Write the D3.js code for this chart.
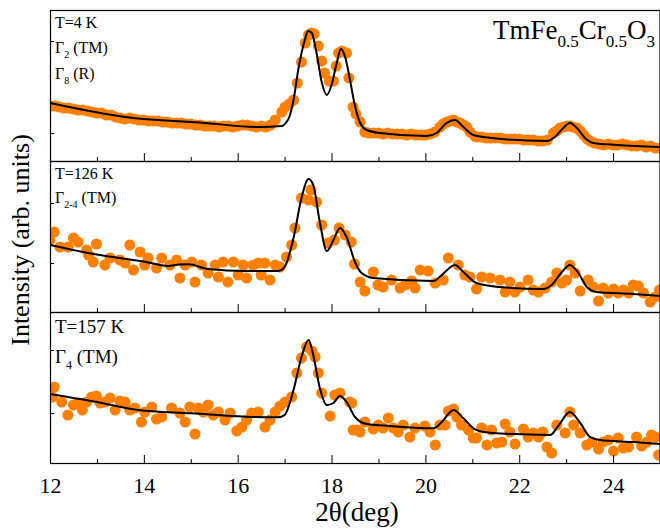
<!DOCTYPE html>
<html>
<head>
<meta charset="utf-8">
<script src="https://cdn.jsdelivr.net/npm/d3@7"></script>
<style>
    body { margin: 0; background: #fff; }
    svg { display: block; }
    text { font-family: "Liberation Serif", "Times New Roman", serif; fill: #000; }
</style>
</head>
<body>
<svg id="chart" width="660" height="531"></svg>
<script>
// x axis (2theta, deg)
const xMajorTicks = [12, 14, 16, 18, 20, 22, 24];
const xMinorTicks = [13, 15, 17, 19, 21, 23, 25];

// measured points, T = 4 K  [2theta, intensity (arb.)]
const dots4K = [[12.0,55],[12.1,55],[12.2,54],[12.3,53],[12.4,53],[12.5,52],[12.6,51],[12.7,51],[12.8,50],[12.9,49],
    [13.0,48],[13.1,48],[13.2,46],[13.3,46],[13.4,44],[13.5,43],[13.6,42],[13.7,43],[13.8,42],[13.9,41],
    [14.0,41],[14.1,40],[14.2,40],[14.3,40],[14.4,39],[14.5,39],[14.6,38],[14.7,38],[14.8,38],[14.9,37],
    [15.0,37],[15.1,36],[15.2,36],[15.3,35],[15.4,35],[15.5,35],[15.6,34],[15.7,35],[15.8,35],[15.9,34],
    [16.0,35],[16.1,36],[16.2,36],[16.3,35],[16.4,34],[16.5,35],[16.6,34],[16.7,36],[16.8,41],[16.94,49],
    [17.01,54],[17.1,57],[17.19,61],[17.27,78],[17.36,99],[17.44,118],[17.51,126],[17.57,128],[17.63,127],[17.72,115],
    [17.79,100],[17.85,88],[17.95,80],[18.04,80],[18.1,95],[18.15,108],[18.22,110],[18.32,108],[18.37,83],[18.46,54],
    [18.52,47],[18.61,39],[18.71,29],[18.8,28],[18.9,28],[19.0,28],[19.1,27],[19.2,28],[19.3,27],[19.4,27],
    [19.5,27],[19.6,26],[19.7,27],[19.8,26],[19.9,26],[20.0,26],[20.1,27],[20.2,29],[20.31,34],[20.38,37],
    [20.46,39],[20.53,40],[20.6,41],[20.67,39],[20.74,38],[20.81,36],[20.88,34],[20.95,29],[21.05,25],[21.1,24],
    [21.2,24],[21.3,23],[21.4,23],[21.5,23],[21.6,23],[21.7,22],[21.8,22],[21.9,22],[22.0,22],[22.1,21],
    [22.2,21],[22.3,21],[22.4,20],[22.5,20],[22.6,21],[22.73,28],[22.8,30],[22.87,33],[22.95,34],[23.02,35],
    [23.08,35],[23.15,34],[23.23,33],[23.3,30],[23.37,26],[23.45,22],[23.51,20],[23.6,18],[23.7,17],[23.8,16],
    [23.9,17],[24.0,16],[24.1,16],[24.2,17],[24.3,16],[24.4,15],[24.5,15],[24.6,16],[24.7,14],[24.8,15],
    [24.9,13],[25.0,13]];

// refinement, T = 4 K
const fit4K = [[12.0,58],[13.6,44],[15.3,38],[16.44,34],[16.94,35],[17.04,39],[17.1,44],[17.19,61],[17.29,91],[17.43,121],
    [17.5,130],[17.58,128],[17.68,108],[17.79,79],[17.9,66],[18.0,76],[18.11,98],[18.2,112],[18.29,104],[18.39,82],
    [18.5,55],[18.61,38],[18.75,31],[19.03,28],[20.03,25],[20.24,28],[20.45,38],[20.63,41],[20.81,34],[21.02,26],
    [21.23,24],[22.59,20],[22.76,24],[22.94,33],[23.08,38],[23.23,33],[23.4,23],[23.58,18],[24.08,16],[25.0,14]];

// measured points, T = 126 K
const dots126K = [[12.0,72],[12.09,80],[12.21,65],[12.39,65],[12.5,74],[12.6,70],[12.78,62],[12.82,57],[12.92,50],[12.99,68],
    [13.17,47],[13.28,54],[13.49,52],[13.6,49],[13.7,67],[13.78,42],[13.92,60],[14.02,47],[14.09,54],[14.27,44],
    [14.38,54],[14.56,47],[14.7,52],[14.77,34],[14.88,47],[15.02,50],[15.09,30],[15.23,47],[15.37,39],[15.52,47],
    [15.59,35],[15.69,50],[15.79,30],[15.91,50],[16.01,37],[16.12,47],[16.19,34],[16.33,47],[16.44,49],[16.5,37],
    [16.58,49],[16.69,32],[16.8,47],[16.9,45],[17.04,55],[17.15,67],[17.22,84],[17.36,114],[17.51,112],[17.56,122],
    [17.68,110],[17.79,87],[17.93,69],[18.06,72],[18.16,84],[18.29,77],[18.42,70],[18.49,48],[18.61,30],[18.71,21],
    [18.89,40],[18.99,27],[19.1,25],[19.28,32],[19.46,24],[19.57,27],[19.71,31],[19.78,24],[19.89,42],[20.06,41],
    [20.21,29],[20.38,32],[20.49,54],[20.7,47],[20.84,37],[20.95,35],[21.09,23],[21.2,35],[21.38,34],[21.59,32],
    [21.7,20],[21.8,30],[21.91,20],[22.02,25],[22.19,32],[22.3,22],[22.41,20],[22.55,24],[22.69,30],[22.8,39],
    [22.91,29],[23.01,32],[23.08,47],[23.19,39],[23.3,21],[23.47,32],[23.58,25],[23.69,11],[23.79,24],[23.9,19],
    [24.01,23],[24.11,19],[24.22,22],[24.33,19],[24.43,27],[24.54,26],[24.65,19],[24.79,10],[24.9,15],[24.99,22]];

const fit126K = [[12.0,67],[12.96,57.7],[14.02,50.3],[14.52,46],[14.75,47.5],[14.95,47.7],[15.37,43],[16.16,41],[16.87,41],[17.0,45],
    [17.19,74],[17.36,114],[17.51,133],[17.61,127],[17.75,90],[17.9,61],[18.04,72],[18.18,84],[18.32,75],[18.5,50],
    [18.64,39],[18.89,34],[20.17,31],[20.35,37],[20.63,47],[20.81,40],[21.09,29],[21.59,25],[22.51,23],[22.69,27],
    [22.91,40],[23.08,47],[23.26,39],[23.44,25],[23.65,20],[24.43,18],[25.0,16]];

// measured points, T = 157 K
const dots157K = [[12.05,66],[12.09,76],[12.25,61],[12.38,48],[12.5,58],[12.6,60],[12.69,53],[12.78,61],[12.89,66],[12.99,67],
    [13.07,60],[13.17,61],[13.28,65],[13.39,53],[13.49,62],[13.6,61],[13.7,53],[13.81,55],[13.95,41],[14.02,51],
    [14.17,56],[14.27,44],[14.38,46],[14.59,55],[14.77,50],[14.88,41],[14.98,56],[15.09,29],[15.16,55],[15.27,51],
    [15.37,58],[15.48,48],[15.59,51],[15.73,43],[15.84,50],[15.98,32],[16.09,36],[16.19,43],[16.3,50],[16.44,51],
    [16.58,36],[16.69,43],[16.8,51],[16.9,57],[17.01,61],[17.15,66],[17.26,90],[17.36,105],[17.47,116],[17.58,112],
    [17.65,106],[17.72,90],[17.79,70],[17.97,47],[18.07,68],[18.18,70],[18.39,61],[18.43,60],[18.46,33],[18.54,33],
    [18.61,31],[18.71,41],[18.89,34],[19.0,38],[19.1,35],[19.21,45],[19.32,35],[19.42,31],[19.53,38],[19.67,26],
    [19.78,35],[19.99,37],[20.1,31],[20.21,18],[20.31,38],[20.42,38],[20.49,52],[20.6,54],[20.67,46],[20.77,38],
    [20.92,33],[21.02,25],[21.09,25],[21.2,35],[21.31,18],[21.41,33],[21.52,20],[21.63,21],[21.7,39],[21.8,31],
    [21.91,19],[22.09,34],[22.19,26],[22.3,30],[22.41,26],[22.5,31],[22.59,16],[22.69,10],[22.8,38],[22.98,30],
    [23.08,51],[23.16,38],[23.3,30],[23.44,18],[23.55,21],[23.69,14],[23.79,21],[23.9,23],[24.01,12],[24.11,25],
    [24.22,15],[24.33,16],[24.5,26],[24.61,17],[24.72,21],[24.82,28],[24.91,26],[24.97,8]];

const fit157K = [[12.0,69],[12.96,61.3],[13.88,53],[15.02,49.7],[16.16,46.3],[16.87,45.7],[17.0,48],[17.19,73],[17.36,106],[17.51,123],
    [17.61,108],[17.75,75],[17.9,58],[18.04,60],[18.18,67],[18.32,61],[18.5,46],[18.75,39],[19.25,37],[20.17,34.7],
    [20.35,41],[20.6,53],[20.81,44.7],[21.06,33.7],[21.38,30.3],[22.66,28],[22.83,37],[23.08,51],[23.3,40],[23.51,26],
    [23.72,23],[24.43,21],[25.0,19]];

// unlabeled y ticks of each panel
const yTicks4K = [28, 120];
const yTicks126K = [49, 109];
const yTicks157K = [50, 113];

const panels = [
    { dots: dots4K, fit: fit4K, yTicks: yTicks4K, fontSize: 16,
      labels: [[{t: 'T=4 K'}], [{t: 'Γ'}, {t: '2', sub: true}, {t: ' (TM)'}], [{t: 'Γ'}, {t: '8', sub: true}, {t: ' (R)'}]],
      labelY: [18, 43, 69] },
    { dots: dots126K, fit: fit126K, yTicks: yTicks126K, fontSize: 16,
      labels: [[{t: 'T=126 K'}], [{t: 'Γ'}, {t: '2-4', sub: true}, {t: ' (TM)'}]],
      labelY: [18, 42] },
    { dots: dots157K, fit: fit157K, yTicks: yTicks157K, fontSize: 19,
      labels: [[{t: 'T=157 K'}], [{t: 'Γ'}, {t: '4', sub: true}, {t: ' (TM)'}]],
      labelY: [21, 51] }
];

const svg = d3.select('#chart');
const plotLeft = 50, plotRight = 660, plotTop = 10, panelH = 151;

const x = d3.scaleLinear().domain([12, 25]).range([plotLeft, plotRight]);

/**
 * writes a text with subscript parts as tspans
 */
function richText(g, px, py, parts, size, anchor) {
    const t = g.append('text')
        .attr('x', px)
        .attr('y', py)
        .attr('text-anchor', anchor || 'start')
        .style('font-size', size + 'px');
    let shifted = false;
    parts.forEach(p => {
        const s = t.append('tspan').text(p.t);
        if (p.sub) {
            s.style('font-size', Math.round(size * 0.62) + 'px').attr('dy', shifted ? 0 : size * 0.3);
            shifted = true;
        } else {
            s.attr('dy', shifted ? -size * 0.3 : 0);
            shifted = false;
        }
    });
    return t;
}

panels.forEach((p, i) => {
    const y0 = plotTop + i * panelH;
    const y1 = y0 + panelH;
    const y = d3.scaleLinear().domain([0, panelH]).range([y1, y0]);

    const g = svg.append('g');

    svg.append('clipPath').attr('id', 'clip' + i)
        .append('rect')
        .attr('x', plotLeft).attr('y', y0)
        .attr('width', plotRight - plotLeft).attr('height', panelH);

    const plot = g.append('g').attr('clip-path', 'url(#clip' + i + ')');

    plot.selectAll('circle')
        .data(p.dots)
        .enter().append('circle')
        .attr('cx', d => x(d[0]))
        .attr('cy', d => y(d[1]))
        .attr('r', 5.5)
        .style('fill', '#ff8000');

    plot.append('path')
        .attr('d', d3.line().x(d => x(d[0])).y(d => y(d[1])).curve(d3.curveMonotoneX)(p.fit))
        .style('fill', 'none')
        .style('stroke', '#000')
        .style('stroke-width', 2);

    // bottom axis, ticks pointing inward
    const isLast = i === panels.length - 1;
    g.append('g')
        .attr('transform', `translate(0,${y1})`)
        .call(d3.axisBottom(x).tickValues(xMajorTicks).tickSize(-8).tickSizeOuter(0)
            .tickFormat(isLast ? d3.format('d') : ''))
        .call(a => a.select('.domain').remove())
        .call(a => a.selectAll('text')
            .attr('y', 14)
            .style('font-family', '"Liberation Serif", serif')
            .style('font-size', '22px')
            .attr('dy', '0.71em'));

    g.append('g')
        .attr('transform', `translate(0,${y1})`)
        .call(d3.axisBottom(x).tickValues(xMinorTicks).tickSize(-4).tickFormat(''))
        .call(a => a.select('.domain').remove());

    g.append('g')
        .attr('transform', `translate(${plotLeft},0)`)
        .call(d3.axisLeft(y).tickValues(p.yTicks).tickSize(-4).tickFormat(''))
        .call(a => a.select('.domain').remove());

    // frame
    g.append('rect')
        .attr('x', plotLeft + 0.5).attr('y', y0 + 0.5)
        .attr('width', plotRight - plotLeft - 0.5).attr('height', panelH)
        .style('fill', 'none')
        .style('stroke', '#000')
        .style('stroke-width', 1.2);

    p.labels.forEach((parts, k) => {
        richText(g, 55, y0 + p.labelY[k], parts, p.fontSize);
    });
});

// compound name
richText(svg, 655, 39, [{t: 'TmFe'}, {t: '0.5', sub: true}, {t: 'Cr'}, {t: '0.5', sub: true}, {t: 'O'}, {t: '3', sub: true}], 27, 'end');

svg.append('text')
    .attr('x', 357)
    .attr('y', 521)
    .attr('text-anchor', 'middle')
    .style('font-size', '27px')
    .text('2θ(deg)');

svg.append('text')
    .attr('transform', 'translate(29,240) rotate(-90)')
    .attr('text-anchor', 'middle')
    .style('font-size', '26px')
    .text('Intensity (arb. units)');
</script>
</body>
</html>
